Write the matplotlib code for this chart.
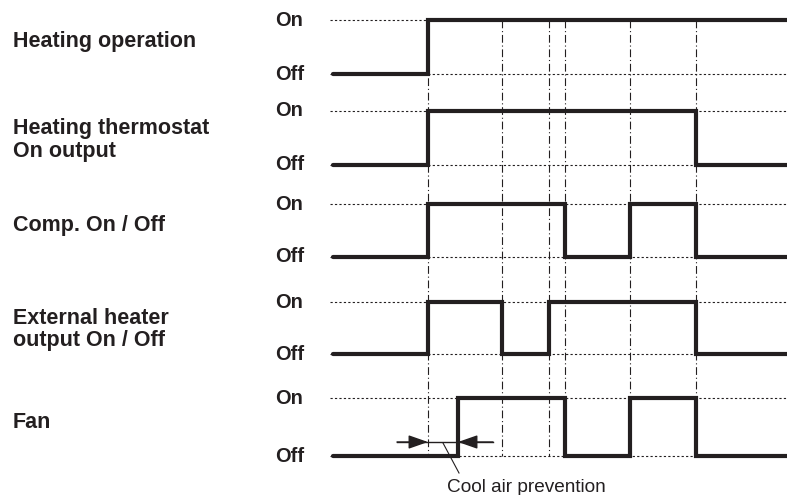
import matplotlib.pyplot as plt

plt.rcParams['font.family'] = ['Liberation Sans', 'DejaVu Sans']

ink = '#231f20'

# signal names and their switching times (x) / states after each switch
labels = ["Heating operation", "Heating thermostat\nOn output", "Comp. On / Off",
          "External heater\noutput On / Off", "Fan"]
heating_op_t = [333, 428]
heating_op_s = [0, 1]
thermostat_t = [333, 428, 696]
thermostat_s = [0, 1, 0]
comp_t = [333, 428, 565, 630, 696]
comp_s = [0, 1, 0, 1, 0]
ext_heater_t = [333, 428, 502, 549, 696]
ext_heater_s = [0, 1, 0, 1, 0]
fan_t = [333, 458, 565, 630, 696]
fan_s = [0, 1, 0, 1, 0]
timing_marks = [428, 502, 549, 565, 630, 696]
t_end = 790

signals = [(heating_op_t, heating_op_s), (thermostat_t, thermostat_s), (comp_t, comp_s),
           (ext_heater_t, ext_heater_s), (fan_t, fan_s)]

# layout (pixel-like coordinates)
on_y = [20, 111, 204, 302, 398]
off_y = [74, 165, 257, 354, 456]
label_y = [42, 140, 225, 329.5, 422]

fig = plt.figure(figsize=(7.87, 4.95), dpi=100)
ax = fig.add_axes([0, 0, 1, 1])
ax.set_xlim(0, 787)
ax.set_ylim(495, 0)
ax.axis('off')

# timing guide lines
for x in timing_marks:
    ax.plot([x, x], [20, 456], color=ink, lw=0.8, ls=(0, (7, 2.5, 1, 2.5)), zorder=1)

for i, (times, states) in enumerate(signals):
    hi, lo = on_y[i], off_y[i]
    ax.plot([330, 787], [hi, hi], color=ink, lw=0.8, ls=(0, (2, 2)), zorder=1)
    ax.plot([330, 787], [lo, lo], color=ink, lw=0.8, ls=(0, (2, 2)), zorder=1)
    xs = list(times) + [t_end]
    ys = [hi if s else lo for s in states]
    ys = ys + [ys[-1]]
    ax.step(xs, ys, where='post', color=ink, lw=3, solid_capstyle='round',
            solid_joinstyle='miter', zorder=3)
    ax.text(275, hi, "On", fontsize=14.4, fontweight='bold', color=ink, ha='left', va='center')
    ax.text(275, lo, "Off", fontsize=14.4, fontweight='bold', color=ink, ha='left', va='center')
    ax.text(13, label_y[i], labels[i], fontsize=15.5, fontweight='bold', color=ink,
            ha='left', va='center', linespacing=1.12)

# cool air prevention delay marker
ay = 442
head = '-|>,head_length=1.0,head_width=0.35'
ax.plot([397, 493], [ay, ay], color=ink, lw=1, zorder=2)
ax.annotate('', xy=(timing_marks[0], ay), xytext=(397, ay),
            arrowprops=dict(arrowstyle=head, color=ink, lw=1, mutation_scale=12,
                            shrinkA=0, shrinkB=0))
ax.annotate('', xy=(fan_t[1], ay), xytext=(493, ay),
            arrowprops=dict(arrowstyle=head, color=ink, lw=1, mutation_scale=12,
                            shrinkA=0, shrinkB=0))
ax.plot([443, 459], [443, 473], color=ink, lw=0.8)
ax.text(447, 487, "Cool air prevention", fontsize=13.7, color=ink, ha='left', va='center')

fig.savefig('out.png', dpi=100)
